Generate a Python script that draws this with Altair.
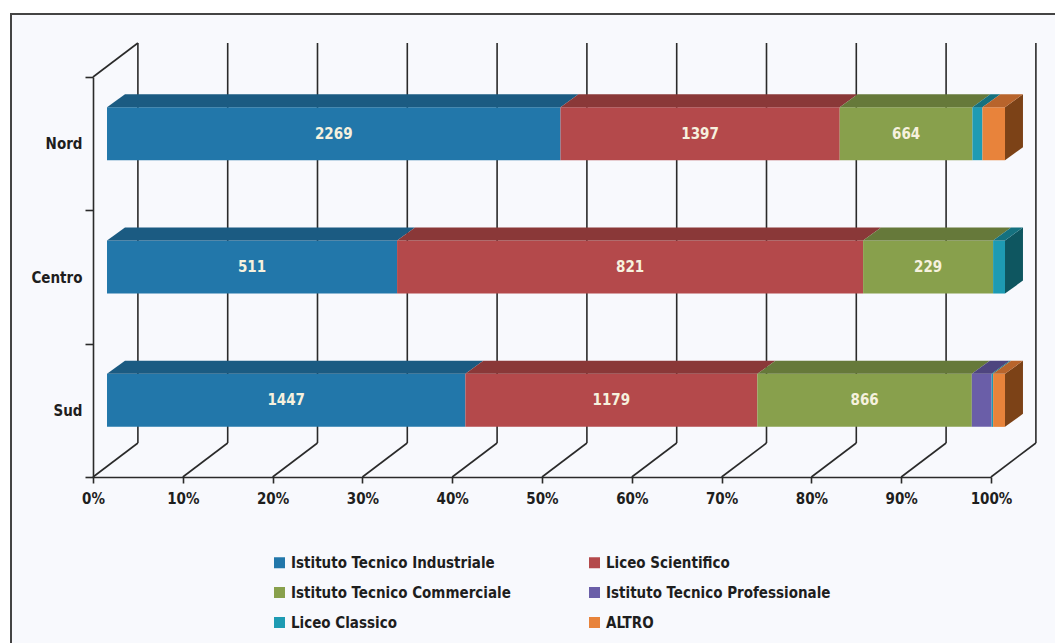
import json
import altair as alt
import pandas as pd

# ---------------- data ----------------
regions = ["Nord", "Centro", "Sud"]
categories = [
    "Istituto Tecnico Industriale",
    "Liceo Scientifico",
    "Istituto Tecnico Commerciale",
    "Istituto Tecnico Professionale",
    "Liceo Classico",
    "ALTRO",
]
industriale = [2269, 511, 1447]
scientifico = [1397, 821, 1179]
commerciale = [664, 229, 866]
professionale = [0, 0, 80]
classico = [50, 21, 6]
altro = [113, 0, 48]
x_ticks = [0, 10, 20, 30, 40, 50, 60, 70, 80, 90, 100]
labelled = categories[:3]

# ---------------- style ----------------
front_colors = ["#2277aa", "#b4494b", "#88a04c", "#6a5ea8", "#1e9bb3", "#e8833b"]
top_colors = ["#1b5b82", "#8a3838", "#66793a", "#4e457f", "#15717f", "#b8642c"]
side_colors = ["#154a6a", "#6e2c2c", "#4f5f2d", "#3c3563", "#0e5660", "#7c4217"]
FONT = "DejaVu Sans Condensed, Roboto, Liberation Sans, sans-serif"
FW = "bold"
FS = 15

# depth geometry in axis units (x: percent, y: category rows)
FX, FY = 1.56, 0.075     # front plane -> bar front face
DX, DY = 2.0, 0.0975     # bar depth
WX, WY = 5.0, 0.255      # wall depth
HALF = 0.199             # half height of bar front face

series = [industriale, scientifico, commerciale, professionale, classico, altro]

front, top, side, labels = [], [], [], []
for i, r in enumerate(regions):
    vals = [s[i] for s in series]
    tot = sum(vals)
    ytop = i + 0.5 - HALF - FY
    ybot = i + 0.5 + HALF - FY
    cum = 0
    last = 0
    for k, c in enumerate(categories):
        v = vals[k]
        if v == 0:
            continue
        x0 = cum / tot * 100
        cum += v
        x1 = cum / tot * 100
        front.append(dict(region=r, cat=c, x0=x0 + FX, x1=x1 + FX, y0=ytop, y1=ybot, value=v))
        seg = f"{r}|{c}"
        top.append(dict(seg=seg, y=ytop, x=x0 + FX, x2=x1 + FX, col=top_colors[k]))
        top.append(dict(seg=seg, y=ytop - DY, x=x0 + FX + DX, x2=x1 + FX + DX, col=top_colors[k]))
        if c in labelled:
            labels.append(dict(x=(x0 + x1) / 2 + FX, y=i + 0.5 - FY, text=str(v)))
        last = k
    side.append(dict(region=r, x=100 + FX, y=ytop, y2=ybot, col=side_colors[last]))
    side.append(dict(region=r, x=100 + FX + DX, y=ytop - DY, y2=ybot - DY, col=side_colors[last]))

grid = []
nrows = len(regions)
for t in x_ticks:
    grid.append(dict(x=t + WX, y=-WY, x2=t + WX, y2=nrows - WY))
    grid.append(dict(x=t + WX, y=nrows - WY, x2=t, y2=nrows))
grid.append(dict(x=0, y=0, x2=WX, y2=-WY))

df_front = pd.DataFrame(front)
df_top = pd.DataFrame(top)
df_side = pd.DataFrame(side)
df_lab = pd.DataFrame(labels)
df_grid = pd.DataFrame(grid)

# ---------------- scales / axes ----------------
xs = alt.Scale(domain=[0, 100], nice=False, zero=False)
ys = alt.Scale(domain=[0, nrows], reverse=True, nice=False, zero=False)

x_axis = alt.Axis(
    values=x_ticks, labelExpr="datum.value + '%'", title=None, grid=False, zindex=2,
    tickSize=6, tickColor="#2a2a2a", domainColor="#2a2a2a", domainWidth=1.6, tickWidth=1.6,
    labelFlush=False, labelOverlap=False,
    labelFontSize=FS, labelFontWeight=FW, labelPadding=8, labelColor="#1e1e1e", labelFont=FONT,
)
y_axis = alt.Axis(
    values=[v / 2 for v in range(0, 2 * nrows + 1)],
    labelExpr=f"datum.value % 1 != 0 ? {json.dumps(regions)}[floor(datum.value)] : ''",
    title=None, grid=False, tickSize=8, tickColor="#2a2a2a", domainColor="#2a2a2a", zindex=2,
    domainWidth=1.6, tickWidth=1.6, labelFlush=False, labelOverlap=False,
    tickOpacity={"condition": {"test": "datum.value % 1 == 0", "value": 1}, "value": 0},
    labelFontSize=FS, labelFontWeight=FW, labelPadding=3, labelColor="#1e1e1e", labelFont=FONT,
)

X = lambda f: alt.X(f, type="quantitative", scale=xs, axis=x_axis)
Y = lambda f: alt.Y(f, type="quantitative", scale=ys, axis=y_axis)

frame = alt.Chart(pd.DataFrame({"a": [0]})).mark_rect(
    fill="#f8f9fd", stroke="#444", strokeWidth=2
).encode(x=alt.value(-82), x2=alt.value(1100), y=alt.value(-63), y2=alt.value(700))

gridlines = alt.Chart(df_grid).mark_rule(color="#2a2a2a", strokeWidth=1.6).encode(
    x=X("x"), x2="x2", y=Y("y"), y2="y2"
)

sides = alt.Chart(df_side).mark_area(orient="vertical").encode(
    x=X("x"), y=Y("y"), y2="y2", detail="region:N",
    color=alt.Color("col:N", scale=None),
)

fronts = alt.Chart(df_front).mark_rect().encode(
    x=X("x0"), x2="x1", y=Y("y0"), y2="y1",
    color=alt.Color(
        "cat:N",
        scale=alt.Scale(domain=categories, range=front_colors),
        legend=alt.Legend(
            title=None, orient="none", legendX=179, legendY=478, columns=2,
            direction="horizontal",
            symbolType="square", symbolSize=121, symbolStrokeWidth=0,
            labelFontSize=FS, labelFontWeight=FW, labelFont=FONT, labelColor="#1e1e1e",
            labelLimit=500, rowPadding=14, columnPadding=76, labelOffset=4,
        ),
    ),
)

tops = alt.Chart(df_top).mark_area(orient="horizontal").encode(
    y=Y("y"), x=X("x"), x2="x2", detail="seg:N",
    color=alt.Color("col:N", scale=None),
)

texts = alt.Chart(df_lab).mark_text(
    color="#f6f1de", fontSize=FS, fontWeight=FW, font=FONT, align="center", baseline="middle"
).encode(x=X("x"), y=Y("y"), text="text:N")

chart = alt.layer(frame, gridlines, sides, fronts, tops, texts).properties(
    width=898, height=400,
    padding={"left": 93, "top": 77, "right": 64, "bottom": 166},
    autosize="none", background="white",
).configure_view(stroke=None)

chart.save("out.html", embed_options={"renderer": "svg", "actions": False})
